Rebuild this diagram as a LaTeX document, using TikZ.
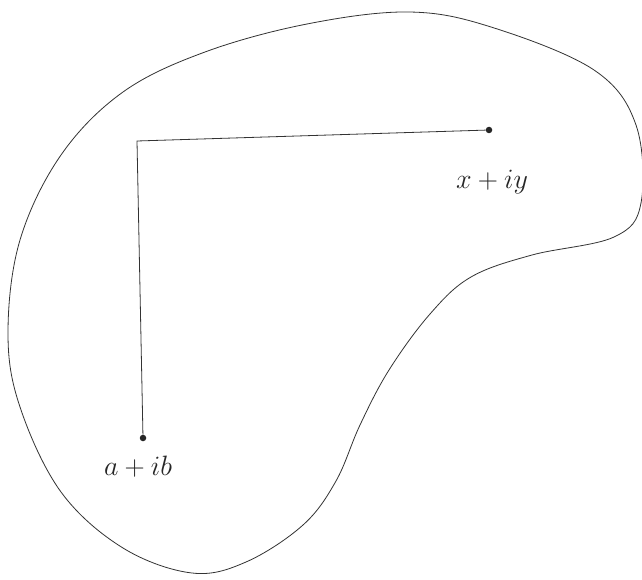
\RequirePackage{fix-cm}
\documentclass[tikz,border=0pt]{standalone}
\begin{document}
\begin{tikzpicture}[x=1pt,y=-1pt,
  outline/.style={draw=black!80, line width=0.8pt},
  ptdot/.style={circle, fill=black!85, inner sep=0pt, minimum size=6.5pt},
  lbl/.style={font=\fontsize{28}{32}\selectfont, text=black!85}]
\fill[white] (0,0) rectangle (642,580);
\useasboundingbox (0,0) rectangle (642,580);
% region
\draw[outline] plot[smooth cycle, tension=0.6] coordinates {
 (409,12) (491,27) (594,70) (636,125) (641,203) (614,237) (532,255)
 (471,277) (430,314) (389,370) (360,425) (336,481) (303,525) (246,562)
 (192,573) (123,548) (61,492) (20,407) (8,333) (20,240) (61,155)
 (123,92) (205,52) (307,24)};
% points
\node[ptdot] (ab) at (143,438) {};
\node[ptdot] (xy) at (489,130) {};
\coordinate (c) at (137,141);
\draw[outline] (ab) -- (c) -- (xy);
\node[lbl] (labab) at (138,467) {$a+ib$};
\node[lbl] (labxy) at (492,182) {$x+iy$};
\end{tikzpicture}
\end{document}
